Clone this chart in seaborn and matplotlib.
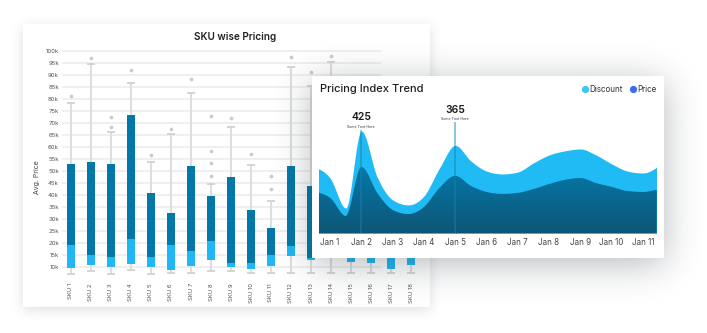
import numpy as np
import matplotlib
matplotlib.use("Agg")
import matplotlib.pyplot as plt
from matplotlib.patches import Rectangle
from matplotlib.colors import LinearSegmentedColormap, to_rgb
from matplotlib.lines import Line2D
import seaborn as sns

# ---------------- SKU wise pricing (values in thousands) ----------------
skus = ["SKU 1", "SKU 2", "SKU 3", "SKU 4", "SKU 5", "SKU 6", "SKU 7", "SKU 8", "SKU 9",
        "SKU 10", "SKU 11", "SKU 12", "SKU 13", "SKU 14", "SKU 15", "SKU 16", "SKU 17", "SKU 18"]
whisker_low = [7.0, 8.2, 7.2, 8.9, 7.2, 7.5, 7.5, 8.3, 8.3, 7.5, 7.5, 7.5, 7.5, 7.3, 7.6, 7.6, 7.6, 7.6]
q1 = [9.6, 10.7, 10.0, 11.1, 10.0, 8.8, 10.3, 12.9, 10.0, 9.2, 10.3, 14.6, 12.8, 16.0, 12.2, 11.5, 9.0, 10.7]
median = [19.0, 14.9, 14.0, 21.5, 14.0, 19.0, 16.5, 20.7, 11.5, 11.5, 14.9, 18.6, 13.6, 30.0, 18.0, 17.0, 19.0, 16.0]
q3 = [52.8, 53.9, 53.1, 73.5, 40.7, 32.4, 52.2, 39.4, 47.4, 33.9, 26.4, 51.9, 43.6, 60.0, 45.0, 40.0, 48.0, 38.0]
whisker_high = [78.3, 94.7, 66.3, 86.7, 53.6, 65.3, 82.6, 44.6, 68.3, 52.5, 37.6, 93.3, 85.5, 95.4, 70.0, 62.0, 75.0, 58.0]
outlier_sku = ["SKU 1", "SKU 2", "SKU 3", "SKU 3", "SKU 4", "SKU 5", "SKU 6", "SKU 7",
               "SKU 8", "SKU 8", "SKU 8", "SKU 8", "SKU 9", "SKU 10", "SKU 11", "SKU 11",
               "SKU 12", "SKU 13", "SKU 14"]
outlier_price = [81.4, 97.2, 72.6, 68.3, 92.2, 56.8, 67.6, 88.3,
                 73.1, 58.5, 53.5, 48.1, 72.2, 57.2, 47.8, 42.6,
                 97.6, 91.4, 97.9]
price_ticks = [10, 15, 20, 25, 30, 35, 40, 45, 50, 55, 60, 65, 70, 75, 80, 85, 90, 95, 100]

# ---------------- Pricing index trend ----------------
trend_day = [0.5, 1, 1.5, 2, 2.5, 3, 3.5, 4, 4.5, 5, 5.5, 6, 6.5, 7, 7.5, 8, 8.5, 9, 9.5, 10, 10.5, 11, 11.5]
discount = [275, 229, 104, 425, 235, 138, 117, 154, 271, 365, 300, 258, 246, 254, 292, 325, 342, 350, 325, 288, 258, 250, 279]
price = [171, 146, 71, 275, 167, 96, 79, 108, 188, 238, 196, 171, 163, 167, 183, 204, 221, 229, 208, 192, 175, 171, 183]
day_ticks = [1, 2, 3, 4, 5, 6, 7, 8, 9, 10, 11]
day_labels = ["Jan 1", "Jan 2", "Jan 3", "Jan 4", "Jan 5", "Jan 6", "Jan 7", "Jan 8", "Jan 9", "Jan 10", "Jan 11"]
series_names = ["Discount", "Price"]
callout_day = [2, 5]
callout_value = [425, 365]
callout_note = ["Some Text Here", "Some Text Here"]

# colours
BOX_LIGHT = "#1fb8f4"
BOX_DARK = "#0378a8"
AREA_LIGHT = "#20bbf4"
AREA_DARK_TOP = "#0479aa"
AREA_DARK_BOTTOM = "#0e5676"
LEGEND_COLORS = ["#3fc6f3", "#3b6fe3"]

sns.set_theme(style="white")
plt.rcParams["font.family"] = ["Inter", "DejaVu Sans"]

W, H = 707, 333
fig = plt.figure(figsize=(W / 100, H / 100), dpi=100, facecolor="white")


def frac(x0, y0, x1, y1):
    return [x0 / W, 1 - y1 / H, (x1 - x0) / W, (y1 - y0) / H]


def overlay(z):
    ax = fig.add_axes([0, 0, 1, 1], zorder=z)
    ax.axis("off")
    return ax


def soft_box(x0, y0, x1, y1, sigma):
    gx = np.arange(W) + 0.5
    gy = np.arange(H) + 0.5

    def cdf(z):
        return 0.5 * (1 + np.tanh(0.7978845608 * (z + 0.044715 * z ** 3)))

    fx = cdf((gx - x0) / sigma) - cdf((gx - x1) / sigma)
    fy = cdf((gy - y0) / sigma) - cdf((gy - y1) / sigma)
    return np.outer(fy, fx)


def card(ax, box, sigma, alpha, dy, color):
    x0, y0, x1, y1 = box
    rgba = np.zeros((H, W, 4))
    rgba[..., :3] = to_rgb(color)
    rgba[..., 3] = soft_box(x0, y0 + dy, x1, y1 + dy, sigma) * alpha
    ax.imshow(rgba, extent=(0, W, H, 0), aspect="auto", interpolation="bilinear", zorder=0)
    ax.add_patch(Rectangle((x0, y0), x1 - x0, y1 - y0, facecolor="white", edgecolor="none", zorder=1))
    ax.set_xlim(0, W)
    ax.set_ylim(H, 0)


def monotone_curve(x, y, samples=30):
    x = np.asarray(x, float)
    y = np.asarray(y, float)
    h = np.diff(x)
    s = np.diff(y) / h
    m = np.zeros_like(y)
    for i in range(1, len(x) - 1):
        p = (s[i - 1] * h[i] + s[i] * h[i - 1]) / (h[i - 1] + h[i])
        m[i] = (np.sign(s[i - 1]) + np.sign(s[i])) * min(abs(s[i - 1]), abs(s[i]), 0.5 * abs(p))
    m[0] = (3 * s[0] - m[1]) / 2
    m[-1] = (3 * s[-1] - m[-2]) / 2
    xs, ys = [], []
    for i in range(len(h)):
        t = np.linspace(0, 1, samples, endpoint=(i == len(h) - 1))
        t2, t3 = t * t, t * t * t
        h00 = 2 * t3 - 3 * t2 + 1
        h10 = t3 - 2 * t2 + t
        h01 = -2 * t3 + 3 * t2
        h11 = t3 - t2
        xs.append(x[i] + t * h[i])
        ys.append(h00 * y[i] + h10 * h[i] * m[i] + h01 * y[i + 1] + h11 * h[i] * m[i + 1])
    return np.concatenate(xs), np.concatenate(ys)


# ---------------- card 1: box chart ----------------
bg = overlay(0)
card(bg, (23, 24, 430, 307), sigma=6, alpha=0.16, dy=3, color="#30363c")

ax1 = fig.add_axes(frac(62, 45, 420, 279), zorder=1)
ax1.patch.set_alpha(0)
pos = np.arange(len(skus))

ax1.hlines(price_ticks, -0.45, 15.5, color="#efefef", lw=1.4, zorder=0)
ax1.vlines(pos, whisker_low, whisker_high, color="#dedede", lw=1.5, zorder=1)
ax1.hlines(whisker_low, pos - 0.2, pos + 0.2, color="#d4d4d4", lw=1.4, zorder=1)
ax1.hlines(whisker_high, pos - 0.2, pos + 0.2, color="#d4d4d4", lw=1.4, zorder=1)

sns.barplot(x=skus, y=np.subtract(median, q1), bottom=q1, color=BOX_LIGHT, width=0.4,
            saturation=1, errorbar=None, linewidth=0, ax=ax1, zorder=2)
sns.barplot(x=skus, y=np.subtract(q3, median), bottom=median, color=BOX_DARK, width=0.4,
            saturation=1, errorbar=None, linewidth=0, ax=ax1, zorder=2)
sns.scatterplot(x=[skus.index(s) for s in outlier_sku], y=outlier_price, color="#cbcbcb",
                s=7, linewidth=0, ax=ax1, zorder=2)

ax1.set_xlim(-0.45, len(skus) - 0.55)
ax1.set_ylim(5, 102.5)
ax1.set_yticks(price_ticks, [f"{t}k" for t in price_ticks])
ax1.set_xticks(pos, skus, rotation=90)
ax1.tick_params(axis="both", length=0, labelsize=4.3, labelcolor="#555555")
ax1.tick_params(axis="y", pad=2.2)
ax1.tick_params(axis="x", pad=2.9)
ax1.set_xlabel("")
ax1.set_ylabel("")
for sp in ax1.spines.values():
    sp.set_visible(False)
ax1.text(0.483, 1 + 8 / 234, "SKU wise Pricing", transform=ax1.transAxes, ha="center",
         va="center", fontsize=7.2, fontweight="semibold", color="#222222")
ax1.text(-0.0698, 0.436, "Avg. Price", transform=ax1.transAxes, rotation=90, ha="center",
         va="center", fontsize=5, color="#444444")

# ---------------- card 2: area chart ----------------
mid = overlay(2)
card(mid, (312, 76, 664, 258), sigma=18, alpha=0.34, dy=6, color="#26323c")

ax2 = fig.add_axes(frac(319, 100, 656, 233), zorder=3)
ax2.patch.set_alpha(0)

xs, disc_s = monotone_curve(trend_day, discount)
_, price_s = monotone_curve(trend_day, price)
ax2.fill_between(xs, disc_s, color=AREA_LIGHT, lw=0, zorder=1)
dark_poly = ax2.fill_between(xs, price_s, color=AREA_DARK_TOP, lw=0, zorder=2)
depth = LinearSegmentedColormap.from_list("depth", [AREA_DARK_BOTTOM, AREA_DARK_TOP])
im = ax2.imshow(np.linspace(0, 1, 256).reshape(-1, 1), cmap=depth, origin="lower",
                extent=(xs.min(), xs.max(), 0, max(price)), aspect="auto", zorder=2.1)
im.set_clip_path(dark_poly.get_paths()[0], ax2.transData)

ax2.set_xlim(0.647, 11.42)
ax2.set_ylim(0, 554)

number_offset = [10.1, 25.4]
note_offset = [3.1, 19.2]
for d, v, note, n_off, t_off in zip(callout_day, callout_value, callout_note, number_offset, note_offset):
    ax2.annotate(f"{v}", (d, v), xytext=(0, n_off), textcoords="offset points", ha="center",
                 va="center", fontsize=7.5, fontweight="semibold", color="#1a1a1a", zorder=5)
    ax2.annotate(note, (d, v), xytext=(0, t_off), textcoords="offset points", ha="center",
                 va="center", fontsize=2.6, color="#333333", zorder=5)
    peak_px = ax2.transData.transform((d, v))
    top = ax2.transData.inverted().transform((peak_px[0], peak_px[1] + (t_off - 2.2) * 100 / 72))[1]
    ax2.vlines(d, 0, max(top, v), color="#1b7fb0", alpha=0.6, lw=1.1, zorder=3)

ax2.set_xticks(day_ticks, day_labels)
ax2.set_yticks([])
ax2.tick_params(axis="x", length=0, pad=3.6, labelsize=5.8, labelcolor="#444444")
for sp in ax2.spines.values():
    sp.set_visible(False)
ax2.text(0.003, 1 + 11 / 133, "Pricing Index Trend", transform=ax2.transAxes, ha="left",
         va="center", fontsize=8, fontweight="medium", color="#1e1e1e")
handles = [Line2D([], [], marker="o", ls="", color=c, markersize=4.2) for c in LEGEND_COLORS]
ax2.legend(handles, series_names, loc="center right", bbox_to_anchor=(1.0, 1 + 11 / 133), ncol=2,
           frameon=False, fontsize=5.8, handletextpad=0.1, columnspacing=0.9, borderpad=0,
           borderaxespad=0, handlelength=0.8, labelcolor="#333333")

fig.savefig("out.png", dpi=100, facecolor="white")
